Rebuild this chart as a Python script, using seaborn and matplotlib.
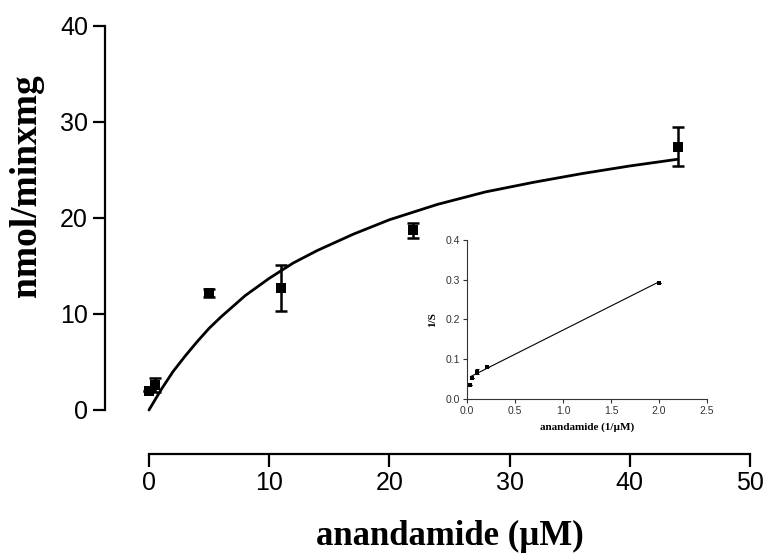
import numpy as np
import pandas as pd
import matplotlib
matplotlib.use("Agg")
import matplotlib.pyplot as plt
import seaborn as sns

# данные основного графика
conc = [0.0, 0.5, 5, 11, 22, 44]
rate = [2.0, 2.6, 12.2, 12.7, 18.7, 27.4]
rate_err = [0.0, 0.7, 0.4, 2.35, 0.75, 2.05]

fit_conc = [0, 1, 2, 3, 4, 5, 6, 8, 10, 12, 14, 17, 20, 24, 28, 32, 36, 40, 44]
fit_rate = [0.0, 2.1, 4.0, 5.6, 7.1, 8.5, 9.7, 11.9, 13.7, 15.3, 16.6, 18.3,
            19.8, 21.4, 22.7, 23.7, 24.6, 25.4, 26.1]

# вставка: двойные обратные координаты
inv_conc = [0.03, 0.05, 0.10, 0.21, 2.0]
inv_rate = [0.035, 0.052, 0.069, 0.081, 0.291]
inv_err = [0.0, 0.0, 0.007, 0.0, 0.0]
lb_x = [0.034, 1.99]
lb_y = [0.056, 0.2935]

main_df = pd.DataFrame({"conc": conc, "rate": rate})
fit_df = pd.DataFrame({"conc": fit_conc, "rate": fit_rate})
inv_df = pd.DataFrame({"x": inv_conc, "y": inv_rate})

sns.set_style("ticks", {"text.color": "black", "axes.labelcolor": "black",
                        "xtick.color": "black", "ytick.color": "black",
                        "axes.edgecolor": "black"})
plt.rcParams['font.family'] = ['Liberation Sans', 'DejaVu Sans']

fig = plt.figure(figsize=(7.66, 5.56), dpi=100)
ax = fig.add_axes([0.1945, 0.2626, 0.7846, 0.6912])

sns.lineplot(data=fit_df, x="conc", y="rate", ax=ax, color="black", lw=2, clip_on=False)
ax.errorbar(conc, rate, yerr=rate_err, fmt="none", ecolor="black", elinewidth=1.8,
            capsize=4.5, capthick=1.8, clip_on=False)
sns.scatterplot(data=main_df, x="conc", y="rate", ax=ax, marker="s", s=60,
                color="black", edgecolor="black", linewidth=0, clip_on=False, zorder=5)

ax.set_xlim(0, 50)
ax.set_ylim(0, 40)
ax.set_xticks(range(0, 51, 10))
ax.set_yticks(range(0, 41, 10))
sns.despine(ax=ax, offset=32)
for sp in ax.spines.values():
    sp.set_linewidth(1.6)
ax.tick_params(axis="both", length=9, width=1.6, labelsize=18, pad=3)

ax.set_xlabel("anandamide (µM)", fontsize=25, fontweight="bold",
              family=["Liberation Serif", "DejaVu Serif"], labelpad=18)
ax.set_ylabel("nmol/minxmg", fontsize=27, fontweight="bold",
              family=["Liberation Serif", "DejaVu Serif"])
ax.yaxis.set_label_coords(-0.175, 0.585)

# вставка
ins = fig.add_axes([0.6097, 0.2824, 0.3133, 0.286])
sns.lineplot(x=lb_x, y=lb_y, ax=ins, color="black", lw=0.8)
ins.errorbar(inv_conc, inv_rate, yerr=inv_err, fmt="none", ecolor="black",
             elinewidth=0.8, capsize=1.5, capthick=0.8)
sns.scatterplot(data=inv_df, x="x", y="y", ax=ins, marker="s", s=10,
                color="black", linewidth=0, zorder=5)
ins.set_xlim(0, 2.5)
ins.set_ylim(0, 0.4)
ins.set_xticks(np.arange(0, 2.51, 0.5))
ins.set_yticks(np.arange(0, 0.41, 0.1))
ins.xaxis.set_major_formatter(matplotlib.ticker.FormatStrFormatter("%.1f"))
ins.yaxis.set_major_formatter(matplotlib.ticker.FormatStrFormatter("%.1f"))
sns.despine(ax=ins)
ins.patch.set_alpha(0)
for sp in ins.spines.values():
    sp.set_linewidth(0.8)
    sp.set_color("#333333")
ins.tick_params(axis="both", length=3, width=0.8, labelsize=7.5,
                colors="#333333", pad=2)
ins.set_xlabel("anandamide (1/µM)", fontsize=8, fontweight="bold",
               family=["Liberation Serif", "DejaVu Serif"], labelpad=5)
ins.set_ylabel("1/S", fontsize=8, fontweight="bold",
               family=["Liberation Serif", "DejaVu Serif"], labelpad=6)

fig.savefig("out.png", dpi=100)
